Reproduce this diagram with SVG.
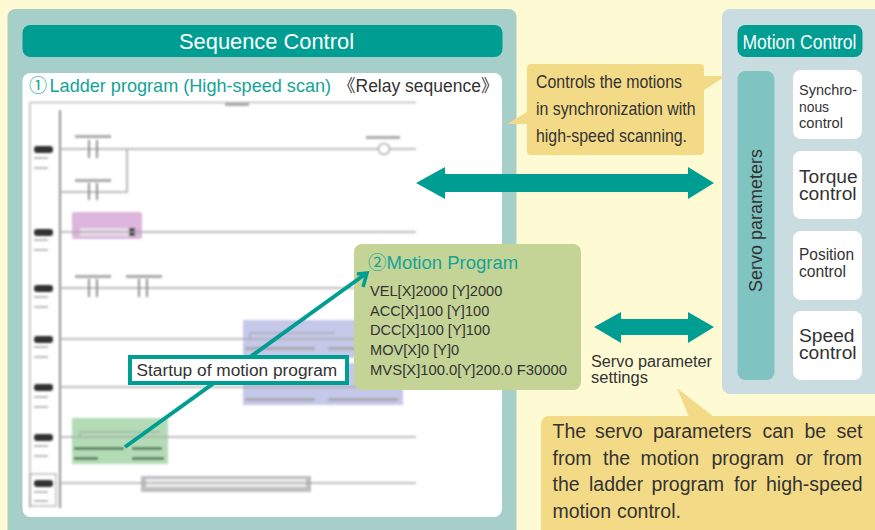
<svg xmlns="http://www.w3.org/2000/svg" width="875" height="530" viewBox="0 0 875 530">
<defs>
<filter id="b1" x="-10%" y="-10%" width="120%" height="120%"><feGaussianBlur stdDeviation="1.100"/></filter>
</defs>
<style>
text{font-family:"Liberation Sans","Noto Sans CJK JP",sans-serif;fill:#333}
.teal{fill:#009e92}
.call{fill:#f3da86}
.box{fill:#fff}
.w{fill:#fff}
.t{fill:#14a398}
.rail{stroke:#a9a9a9;stroke-width:1.6;fill:none}
.dark{stroke:#777;stroke-width:1.6;fill:none}
.tag{fill:#333}
.blob{fill:#aaa}
.blob2{fill:#bbb}
.ct{font-size:18.5px}
.st{font-size:15.5px}
.bt{font-size:19.2px}
.code{font-size:14.6px}
.ins{font-size:19.5px}
</style>
<rect width="875" height="530" fill="#fefad4"/>

<g id="sequence-control">
<rect x="7.500" y="9" width="509" height="535" rx="8" fill="#a7cfca"/>
<rect x="22.500" y="25" width="480" height="32" rx="8" class="teal"/>
<text x="179" y="49" font-size="21.500" class="w" textLength="175" lengthAdjust="spacingAndGlyphs">Sequence Control</text>
</g>

<g id="ladder-program">
<rect x="22.500" y="73" width="479.500" height="444" rx="8" class="box"/>
<text y="92" font-size="18.100" class="t"><tspan x="29">①</tspan><tspan x="49.500">Ladder program (High-speed scan)</tspan></text>
<text x="338" y="92" font-size="17.500">《Relay sequence》</text>
<g filter="url(#b1)">
<path d="M29 102.500H416" stroke="#bbb" stroke-width="1.500" fill="none"/>
<path d="M30 102V508" stroke="#ccc" stroke-width="2" fill="none"/>
<path d="M60 110V508" class="dark"/>
<rect x="72" y="212" width="70" height="27" rx="2" fill="#dcb6dc"/>
<rect x="243" y="320" width="160" height="38" fill="#c5c8e8"/>
<rect x="243" y="363" width="160" height="42" fill="#c5c8e8"/>
<rect x="72" y="418" width="96" height="46" fill="#b3dcb6"/>
<rect x="141" y="476" width="170" height="16" fill="#bdbdbd"/>
<rect x="146" y="479" width="160" height="8" fill="#eee"/>
<rect x="80" y="228" width="52" height="8" fill="#e9dcea"/>
<rect x="129" y="228" width="6" height="8" fill="#333"/>
<path d="M60 149H378M390 149H416M60 192H127V149M60 232H416M60 288H416M60 339H416M60 387H416M60 437H416M60 483H416" class="rail"/>
<path d="M89 140V158M97 140V158M89 183V200M97 183V200M89 279V297M97 279V297M139 279V297M147 279V297" class="dark"/>
<circle cx="384" cy="149" r="5.500" fill="#fff" stroke="#aaa" stroke-width="1.500"/>
<path d="M250 338V333H335M80 437V432H160" stroke="#999" fill="none"/>
<g class="blob">
<rect x="75" y="135" width="36" height="3"/><rect x="75" y="179" width="36" height="3"/>
<rect x="75" y="275" width="36" height="3"/><rect x="126" y="275" width="36" height="3"/>
<rect x="366" y="136" width="34" height="3"/><rect x="225" y="103" width="24" height="3"/>
<rect x="245" y="347" width="70" height="3"/><rect x="328" y="347" width="70" height="3"/>
<rect x="245" y="398" width="70" height="3"/><rect x="328" y="398" width="70" height="3"/>
<rect x="74" y="447" width="50" height="3" fill="#5c7f5e"/><rect x="132" y="447" width="30" height="3" fill="#5c7f5e"/>
<rect x="74" y="457" width="24" height="3" fill="#5c7f5e"/><rect x="132" y="457" width="32" height="3" fill="#5c7f5e"/>
</g>
<g class="tag">
<rect x="34" y="146" width="19" height="7" rx="3"/><rect x="34" y="229" width="19" height="7" rx="3"/>
<rect x="34" y="285" width="19" height="7" rx="3"/><rect x="34" y="336" width="19" height="7" rx="3"/>
<rect x="34" y="384" width="19" height="7" rx="3"/><rect x="34" y="434" width="19" height="7" rx="3"/>
<rect x="34" y="480" width="19" height="7" rx="3"/>
</g>
<g class="blob2">
<rect x="34" y="157" width="14" height="2"/><rect x="34" y="167" width="14" height="2"/>
<rect x="34" y="239" width="14" height="2"/><rect x="34" y="249" width="14" height="2"/>
<rect x="34" y="296" width="14" height="2"/><rect x="34" y="306" width="14" height="2"/>
<rect x="34" y="346" width="14" height="2"/><rect x="34" y="356" width="14" height="2"/>
<rect x="34" y="396" width="14" height="2"/><rect x="34" y="406" width="14" height="2"/>
<rect x="34" y="445" width="14" height="2"/><rect x="34" y="455" width="14" height="2"/>
<rect x="34" y="491" width="14" height="2"/><rect x="34" y="500" width="14" height="2"/>
</g>
<rect x="30" y="474" width="26" height="32" fill="none" stroke="#999"/>
</g>
</g>

<g id="callout-synchronization">
<path d="M527 112L507 124H527ZM704 76H726L704 90Z" class="call"/>
<rect x="527" y="64" width="177" height="91" rx="4" class="call"/>
<text x="536" y="88" class="ct" textLength="146" lengthAdjust="spacingAndGlyphs">Controls the motions</text>
<text x="536" y="115" class="ct" textLength="159.500" lengthAdjust="spacingAndGlyphs">in synchronization with</text>
<text x="536" y="142" class="ct" textLength="151" lengthAdjust="spacingAndGlyphs">high-speed scanning.</text>
</g>

<g id="motion-control">
<rect x="722" y="9" width="170" height="385" rx="8" fill="#c9dcdf"/>
<rect x="737.500" y="25" width="125" height="32" rx="8" class="teal"/>
<text x="742.500" y="48.500" font-size="20.500" class="w" textLength="114" lengthAdjust="spacingAndGlyphs">Motion Control</text>
</g>
<g id="servo-parameters">
<rect x="737.500" y="71" width="37" height="309" rx="8" fill="#80c4c2"/>
<text transform="translate(762 292) rotate(-90)" font-size="18">Servo parameters</text>
</g>
<g id="synchronous-control">
<rect x="793" y="70" width="69" height="69" rx="8" class="box"/>
<text x="799" y="95" class="st" textLength="58" lengthAdjust="spacingAndGlyphs">Synchro-</text>
<text x="799" y="112" class="st" textLength="30" lengthAdjust="spacingAndGlyphs">nous</text>
<text x="799" y="128" class="st" textLength="44" lengthAdjust="spacingAndGlyphs">control</text>
</g>
<g id="torque-control">
<rect x="793" y="151" width="69" height="68" rx="8" class="box"/>
<text x="799" y="183" class="bt">Torque</text>
<text x="799" y="200" class="bt">control</text>
</g>
<g id="position-control">
<rect x="793" y="231" width="69" height="69" rx="8" class="box"/>
<text x="799" y="260" font-size="16.500" textLength="55" lengthAdjust="spacingAndGlyphs">Position</text>
<text x="799" y="277" font-size="16.500" textLength="47" lengthAdjust="spacingAndGlyphs">control</text>
</g>
<g id="speed-control">
<rect x="793" y="311" width="69" height="69" rx="8" class="box"/>
<text x="799" y="342" class="bt">Speed</text>
<text x="799" y="359" class="bt">control</text>
</g>

<g id="motion-program">
<rect x="354" y="244" width="227" height="146" rx="8" fill="#c4d497"/>
<text x="368" y="269" font-size="18.500" class="t">②Motion Program</text>
<text x="370" y="296" class="code">VEL[X]2000 [Y]2000</text>
<text x="370" y="316" class="code">ACC[X]100 [Y]100</text>
<text x="370" y="335" class="code">DCC[X]100 [Y]100</text>
<text x="370" y="355" class="code">MOV[X]0 [Y]0</text>
<text x="370" y="375" class="code" textLength="197" lengthAdjust="spacingAndGlyphs">MVS[X]100.0[Y]200.0 F30000</text>
</g>

<g id="connectors">
<path d="M125 447L364 275" stroke="#009e92" stroke-width="4" fill="none"/>
<path d="M357 274L367 273L363 287" stroke="#009e92" stroke-width="3.500" fill="none"/>
<path d="M416 183L445 167V174H688V167L714 183L688 199V192H445V199Z" class="teal"/>
<path d="M594 327L621 312V319H688V312L714 327L688 343V335H621V343Z" class="teal"/>
</g>

<g id="startup-label">
<rect x="130" y="357" width="217" height="26" fill="#fff" stroke="#009e92" stroke-width="4"/>
<text x="136.500" y="376" font-size="17.300">Startup of motion program</text>
</g>

<g id="servo-settings-label">
<text x="591" y="367" font-size="16" textLength="121" lengthAdjust="spacingAndGlyphs">Servo parameter</text>
<text x="591" y="383" font-size="16" textLength="57" lengthAdjust="spacingAndGlyphs">settings</text>
</g>

<g id="callout-servo">
<path d="M677 388L689 417H714Z" class="call"/>
<rect x="541" y="416" width="345" height="125" rx="8" class="call"/>
<text y="438" class="ins"><tspan x="552.500">The</tspan><tspan x="595">servo</tspan><tspan x="653">parameters</tspan><tspan x="762.500">can</tspan><tspan x="804.500">be</tspan><tspan x="836.500">set</tspan></text>
<text y="465" class="ins"><tspan x="552.500">from</tspan><tspan x="603">the</tspan><tspan x="640.500">motion</tspan><tspan x="711.500">program</tspan><tspan x="795.500">or</tspan><tspan x="823">from</tspan></text>
<text y="491" class="ins"><tspan x="552.500">the</tspan><tspan x="589">ladder</tspan><tspan x="651.500">program</tspan><tspan x="734">for</tspan><tspan x="766">high-speed</tspan></text>
<text y="518" class="ins"><tspan x="552.500">motion</tspan><tspan x="617">control.</tspan></text>
</g>
</svg>
